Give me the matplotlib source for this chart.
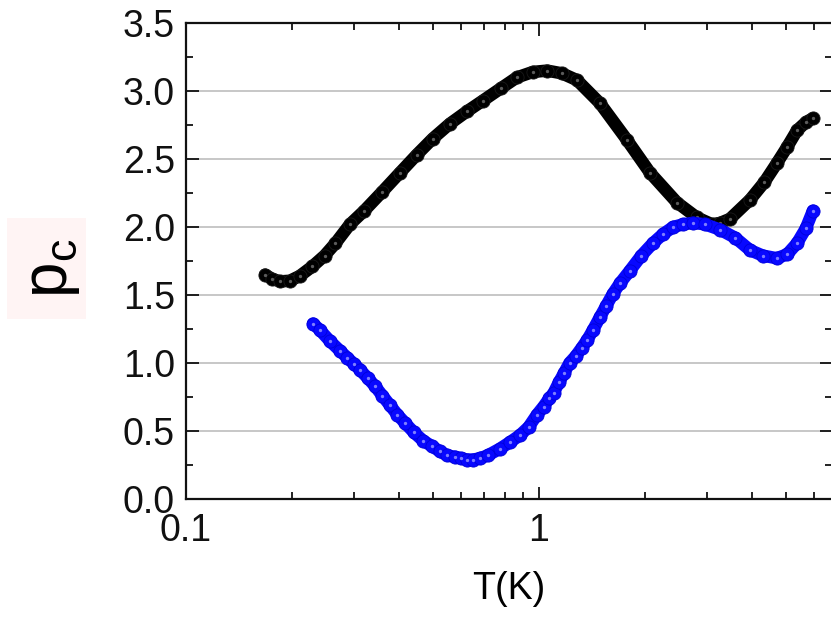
import matplotlib
matplotlib.use("Agg")
import matplotlib.pyplot as plt
from matplotlib.patches import Rectangle
from matplotlib.ticker import FixedLocator, MultipleLocator, NullFormatter

plt.rcParams['font.family'] = ['Liberation Sans', 'DejaVu Sans']
plt.rcParams['mathtext.default'] = 'regular'

# ---- data ----
T_black = [0.1675, 0.175, 0.1846, 0.197, 0.210, 0.228, 0.247, 0.265, 0.2914, 0.32,
           0.36, 0.404, 0.45, 0.50, 0.5595, 0.625, 0.694, 0.78, 0.866, 0.96,
           1.054, 1.16, 1.281, 1.488, 1.775, 2.061, 2.459, 2.80, 3.09, 3.26,
           3.475, 3.96, 4.35, 4.72, 5.05, 5.38, 5.70, 5.97]
p_black = [1.65, 1.62, 1.60, 1.605, 1.64, 1.71, 1.79, 1.88, 2.02, 2.12,
           2.26, 2.40, 2.53, 2.65, 2.76, 2.85, 2.93, 3.02, 3.10, 3.14,
           3.15, 3.13, 3.08, 2.91, 2.64, 2.40, 2.18, 2.07, 2.02, 2.03,
           2.06, 2.20, 2.33, 2.47, 2.59, 2.71, 2.77, 2.80]

T_blue = [0.229, 0.240, 0.256, 0.273, 0.286, 0.300, 0.311, 0.327, 0.343, 0.360,
          0.378, 0.397, 0.417, 0.442, 0.469, 0.496, 0.524, 0.550, 0.578, 0.600,
          0.625, 0.652, 0.681, 0.715, 0.775, 0.830, 0.884, 0.935, 0.987, 1.03,
          1.07, 1.10, 1.14, 1.18, 1.22, 1.27, 1.32, 1.37, 1.42, 1.49,
          1.55, 1.62, 1.70, 1.81, 1.95, 2.10, 2.25, 2.40, 2.56, 2.73,
          2.95, 3.26, 3.60, 3.96, 4.30, 4.72, 5.05, 5.38, 5.70, 5.97]
p_blue = [1.29, 1.24, 1.16, 1.09, 1.04, 0.99, 0.95, 0.89, 0.83, 0.76,
          0.69, 0.62, 0.56, 0.49, 0.43, 0.39, 0.35, 0.32, 0.31, 0.30,
          0.29, 0.29, 0.30, 0.32, 0.37, 0.42, 0.47, 0.53, 0.62, 0.68,
          0.74, 0.78, 0.86, 0.93, 1.00, 1.05, 1.11, 1.17, 1.24, 1.34,
          1.42, 1.51, 1.59, 1.68, 1.79, 1.88, 1.95, 2.00, 2.02, 2.03,
          2.02, 1.98, 1.92, 1.83, 1.79, 1.77, 1.80, 1.88, 1.99, 2.12]

x_ticks = [0.1, 1]
x_ticklabels = ["0.1", "1"]
y_ticks = [0.0, 0.5, 1.0, 1.5, 2.0, 2.5, 3.0, 3.5]
y_ticklabels = ["0.0", "0.5", "1.0", "1.5", "2.0", "2.5", "3.0", "3.5"]

# ---- figure ----
W, H = 831, 617
fig = plt.figure(figsize=(W / 100, H / 100), dpi=100)
ax = fig.add_axes([186 / W, 1 - 499 / H, 646 / W, 476 / H])

def beads(x, y, color, edge, hi, zo):
    ax.plot(x, y, '-', color=color, lw=9.0, solid_capstyle='round',
            solid_joinstyle='round', zorder=zo)
    ax.plot(x, y, 'o', ms=9.5, mfc=color, mec=edge, mew=0.6, zorder=zo + 0.1)
    ax.plot(x, y, 'o', ms=2.4, mfc=hi, mec='none', alpha=0.75, zorder=zo + 0.3)

beads(T_black, p_black, '#000000', '#1a1a1a', '#7a7a7a', 3)
beads(T_blue, p_blue, '#0808ff', '#0000d8', '#a8a8ff', 4)

ax.set_xscale('log')
ax.set_xlim(0.1, 6.76)
ax.set_ylim(0, 3.5)

ax.xaxis.set_major_locator(FixedLocator(x_ticks))
ax.set_xticklabels(x_ticklabels)
ax.xaxis.set_minor_locator(FixedLocator([0.2, 0.3, 0.4, 0.5, 0.6, 0.7, 0.8, 0.9,
                                         2, 3, 4, 5, 6]))
ax.xaxis.set_minor_formatter(NullFormatter())
ax.yaxis.set_major_locator(FixedLocator(y_ticks))
ax.set_yticklabels(y_ticklabels)
ax.yaxis.set_minor_locator(MultipleLocator(0.25))

ax.yaxis.grid(True, which='major', color='#b8b8b8', lw=1.1, zorder=0)
ax.set_axisbelow(True)

ax.tick_params(which='both', direction='in', top=True, right=True, width=1.3,
               labelsize=27, colors='#111111')
ax.tick_params(which='major', length=9)
ax.tick_params(which='minor', length=5)
ax.tick_params(axis='x', pad=10)
ax.tick_params(axis='y', pad=8)
for s in ax.spines.values():
    s.set_linewidth(1.6)
    s.set_color('#111111')

ax.set_xlabel('T(K)', fontsize=27, labelpad=16)

# y label with its faint pink background box
fig.patches.append(Rectangle((7 / W, 1 - 319 / H), 79 / W, 101 / H,
                             transform=fig.transFigure, facecolor='#fff4f4',
                             edgecolor='none', zorder=0))
fig.text(52 / W, 1 - 268 / H, r'p$_c$', fontsize=46, rotation=90,
         ha='center', va='center', zorder=2)

fig.savefig('out.png', dpi=100)
